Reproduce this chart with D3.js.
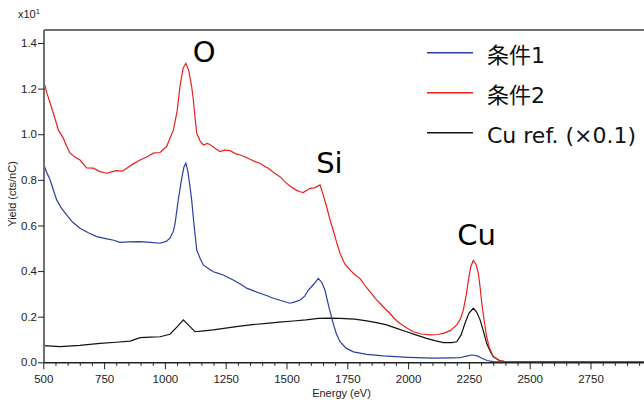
<!DOCTYPE html>
<html><head><meta charset="utf-8">
<script src="https://cdn.jsdelivr.net/npm/d3@7"></script>
<style>
html,body{margin:0;padding:0;background:#fff;overflow:hidden;}
svg{display:block;}
</style></head>
<body>
<svg id="chart" width="644" height="400"></svg>
<script>
// ---- Data ----
const seriesNames = ["条件1", "条件2", "Cu ref. (×0.1)"];
const seriesColors = ["#2b3f9e", "#e8211f", "#111111"];

const energy1 = [500,515,528,540,555,575,596,620,651,685,720,761,790,815,850,898,940,980,1005,1021,1035,1042,1055,1068,1078,1086,1094,1102,1110,1120,1131,1145,1158,1180,1199,1220,1240,1260,1281,1310,1336,1365,1391,1420,1446,1480,1514,1535,1556,1575,1590,1610,1631,1645,1658,1675,1692,1705,1720,1745,1775,1830,1898,2000,2104,2180,2213,2240,2261,2285,2303,2325,2350,2400,3000];
const yield1  = [0.873,0.83,0.80,0.76,0.712,0.675,0.646,0.615,0.588,0.568,0.551,0.541,0.535,0.526,0.528,0.529,0.526,0.522,0.53,0.544,0.575,0.61,0.712,0.80,0.855,0.873,0.84,0.78,0.712,0.60,0.493,0.455,0.427,0.41,0.397,0.39,0.383,0.372,0.361,0.343,0.325,0.313,0.303,0.292,0.281,0.27,0.259,0.265,0.273,0.29,0.317,0.34,0.368,0.35,0.317,0.24,0.171,0.125,0.090,0.062,0.046,0.035,0.028,0.022,0.018,0.019,0.020,0.027,0.032,0.028,0.018,0.008,0.003,0.001,0.001];

const energy2 = [500,515,528,545,562,582,595,610,630,651,678,706,733,761,780,802,825,843,870,898,925,952,980,1007,1035,1050,1062,1075,1086,1098,1110,1117,1125,1131,1145,1158,1175,1192,1210,1227,1245,1268,1290,1309,1330,1350,1370,1391,1410,1425,1450,1473,1495,1514,1540,1556,1569,1585,1597,1615,1638,1652,1665,1679,1692,1705,1720,1740,1761,1780,1802,1820,1843,1865,1884,1905,1925,1945,1966,1995,2022,2055,2090,2120,2145,2175,2200,2215,2227,2240,2248,2258,2268,2279,2289,2296,2303,2313,2323,2335,2350,2375,2400,2500,3000];
const yield2  = [1.238,1.18,1.137,1.08,1.019,0.983,0.95,0.917,0.90,0.887,0.852,0.851,0.836,0.829,0.835,0.840,0.838,0.851,0.87,0.887,0.90,0.917,0.92,0.946,1.019,1.10,1.209,1.29,1.311,1.28,1.209,1.150,1.06,1.004,0.97,0.953,0.96,0.949,0.935,0.924,0.93,0.928,0.915,0.909,0.90,0.890,0.88,0.873,0.86,0.851,0.83,0.814,0.79,0.773,0.755,0.748,0.744,0.755,0.763,0.765,0.778,0.73,0.682,0.624,0.580,0.53,0.478,0.43,0.405,0.385,0.368,0.34,0.310,0.28,0.259,0.235,0.215,0.19,0.171,0.15,0.134,0.124,0.120,0.122,0.127,0.14,0.164,0.19,0.229,0.30,0.361,0.42,0.446,0.43,0.390,0.33,0.259,0.18,0.112,0.06,0.025,0.008,0.003,0.001,0.001];

const energy3 = [500,569,650,733,800,857,898,940,980,1021,1050,1076,1100,1124,1160,1199,1250,1309,1360,1418,1470,1528,1580,1631,1680,1720,1780,1830,1870,1912,1950,1994,2035,2076,2110,2145,2180,2200,2218,2234,2250,2268,2282,2296,2310,2323,2337,2350,2375,2400,3000];
const yield3  = [0.073,0.069,0.074,0.083,0.088,0.093,0.108,0.110,0.112,0.123,0.155,0.186,0.16,0.134,0.138,0.142,0.15,0.159,0.165,0.171,0.176,0.181,0.186,0.193,0.194,0.193,0.189,0.182,0.174,0.164,0.15,0.134,0.119,0.105,0.095,0.086,0.086,0.090,0.12,0.171,0.215,0.237,0.22,0.186,0.135,0.083,0.05,0.025,0.008,0.002,0.001];

const xMajorTicks = [500,750,1000,1250,1500,1750,2000,2250,2500,2750];
const yTicks = [0.0,0.2,0.4,0.6,0.8,1.0,1.2,1.4];
const peakLabels = ["O","Si","Cu"];
const peakEnergies = [1115,1622,2202];
const peakValues = [1.318,0.83,0.514];

// ---- Layout ----
const svg = d3.select("#chart");
const mLeft = 44, mTop = 30, mBottom = 362.3;
const x = d3.scaleLinear().domain([500,3000]).range([43.3, 651.3]);
const y = d3.scaleLinear().domain([0,1.4]).range([mBottom, 43]);

const tickFont = "'Liberation Sans', Arial, sans-serif";

// frame top
svg.append("line").attr("x1",mLeft).attr("x2",660).attr("y1",mTop).attr("y2",mTop)
  .attr("stroke","#707070").attr("stroke-width",2);

// lines
const data = [[energy1,yield1],[energy2,yield2],[energy3,yield3]];
const line = d3.line().x(d=>x(d[0])).y(d=>y(d[1]));
svg.append("clipPath").attr("id","clp").append("rect")
  .attr("x",x(500)).attr("y",mTop).attr("width",700).attr("height",mBottom-mTop+2);
[2,0,1].forEach(i=>{
  const pts = data[i][0].map((e,k)=>[e,data[i][1][k]]);
  svg.append("path").datum(pts).attr("d",line).attr("fill","none")
    .attr("stroke",seriesColors[i]).attr("stroke-width",1.2)
    .attr("clip-path","url(#clp)");
});

// x axis
const minor = d3.range(500,3001,50).filter(v=>v%250!==0);
svg.append("g").attr("transform",`translate(0,${mBottom})`)
  .call(d3.axisBottom(x).tickValues(minor).tickSize(3.5).tickFormat(""))
  .call(g=>g.select(".domain").remove())
  .call(g=>g.selectAll("line").attr("stroke","#222"));
const xa = svg.append("g").attr("transform",`translate(0,${mBottom})`)
  .call(d3.axisBottom(x).tickValues(xMajorTicks).tickSize(7).tickSizeOuter(0).tickFormat(d3.format("d")));
xa.select(".domain").attr("stroke","#222").attr("stroke-width",1.5);
xa.selectAll("line").attr("stroke","#222");
xa.selectAll("text").attr("font-family",tickFont).attr("font-size",11.5).attr("fill","#222").attr("dy","0.9em");

// y axis
const ya = svg.append("g").attr("transform",`translate(${mLeft},0)`)
  .call(d3.axisLeft(y).tickValues(yTicks).tickSize(6).tickSizeOuter(0).tickFormat(d3.format(".1f")));
ya.select(".domain").attr("stroke","#707070").attr("stroke-width",2)
  .attr("d",`M0,${mBottom}V${mTop}`);
ya.selectAll("line").attr("stroke","#222");
ya.selectAll("text").attr("font-family",tickFont).attr("font-size",11.5).attr("fill","#222").attr("x",-7);

// multiplier
const mt = svg.append("text").attr("x",18).attr("y",18).attr("font-family",tickFont)
  .attr("font-size",11).attr("fill","#222").text("x10");
mt.append("tspan").attr("font-size",7.5).attr("dy",-4).text("1");

// axis titles
svg.append("text").attr("x",341.5).attr("y",397).attr("text-anchor","middle")
  .attr("font-family",tickFont).attr("font-size",11).attr("fill","#222").text("Energy (eV)");
svg.append("text").attr("transform","translate(16,194) rotate(-90)").attr("text-anchor","middle")
  .attr("font-family",tickFont).attr("font-size",11).attr("fill","#222").text("Yield (cts/nC)");

// peak labels
const lblFont = "'DejaVu Sans','Noto Sans',sans-serif";
peakLabels.forEach((t,i)=>{
  svg.append("text").attr("x",x(peakEnergies[i])).attr("y",y(peakValues[i]))
    .attr("font-family",lblFont).attr("font-size",29).attr("fill","#000").text(t);
});

// legend
seriesNames.forEach((n,i)=>{
  const ly = 52.7 + i*40;
  svg.append("line").attr("x1",427).attr("x2",473).attr("y1",ly).attr("y2",ly)
    .attr("stroke",seriesColors[i]).attr("stroke-width",1.5);
  svg.append("text").attr("x",487).attr("y",ly+10).attr("font-family","'DejaVu Sans','Noto Sans CJK JP',sans-serif")
    .attr("font-size",22).attr("fill","#111").text(n);
});
</script>
</body></html>
